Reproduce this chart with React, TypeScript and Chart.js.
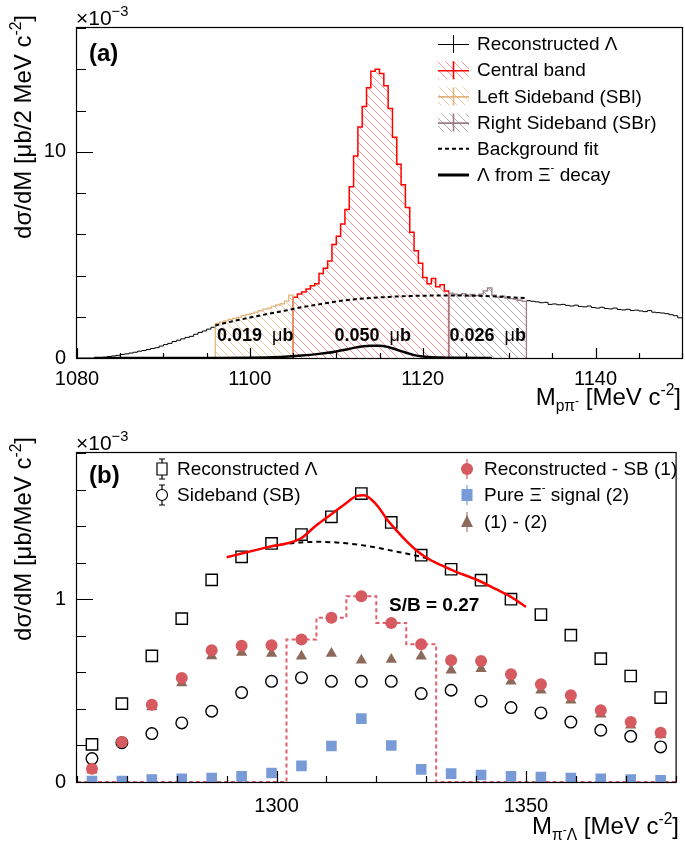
import React, { useEffect, useRef } from 'react';
import { Chart, registerables } from 'chart.js';

Chart.register(...registerables);

const FONT = '"Liberation Sans", Arimo, Arial, Helvetica, sans-serif';
Chart.defaults.font.family = FONT;

/* ================= Panel (a): M(p pi-) spectrum ================= */
const binWidthA = 0.5;
const recoLeftStart = 1080;
const recoLeftValues = [0, 0, 0, 0, 0.01, 0.02, 0.04, 0.07, 0.1, 0.13, 0.17, 0.2, 0.24, 0.28, 0.33, 0.36, 0.41, 0.46, 0.5, 0.58, 0.65, 0.71, 0.8, 0.86, 0.93, 1.0, 1.05, 1.15, 1.24, 1.31, 1.4, 1.49];
const sblStart = 1096;
const sblValues = [1.68, 1.74, 1.8, 1.87, 1.92, 1.97, 2.05, 2.1, 2.16, 2.22, 2.29, 2.37, 2.42, 2.5, 2.57, 2.63, 2.76, 3.05];
const centralStart = 1105;
const centralValues = [2.95, 3.1, 3.2, 3.35, 3.5, 3.6, 4.1, 4.35, 4.7, 5.5, 5.9, 6.5, 7.2, 8.3, 9.8, 11.2, 12.2, 13.1, 13.9, 14.0, 13.8, 13.2, 12.1, 10.7, 9.4, 8.4, 7.3, 6.1, 5.2, 4.6, 3.9, 3.6, 3.85, 3.45, 3.55, 3.25];
const sbrStart = 1123;
const sbrValues = [3.15, 3.1, 3.05, 3.12, 3.0, 3.08, 3.02, 3.1, 3.25, 3.4, 3.05, 2.95, 3.0, 2.9, 2.88, 2.85, 2.8, 2.75];
const recoRightStart = 1132;
const recoRightValues = [2.78, 2.75, 2.72, 2.68, 2.7, 2.6, 2.62, 2.58, 2.6, 2.55, 2.52, 2.56, 2.5, 2.48, 2.52, 2.45, 2.42, 2.46, 2.4, 2.38, 2.42, 2.35, 2.33, 2.36, 2.3, 2.32, 2.28, 2.25, 2.3, 2.22, 2.2, 2.18, 2.15, 2.1, 2.05, 1.95];
const bgFitMassA = [1096, 1098, 1100, 1102, 1104, 1106, 1108, 1110, 1112, 1114, 1116, 1118, 1120, 1122, 1124, 1126, 1128, 1130, 1132];
const bgFitValuesA = [1.58, 1.78, 1.96, 2.13, 2.29, 2.46, 2.6, 2.74, 2.84, 2.91, 2.96, 3.0, 3.02, 3.03, 3.03, 3.02, 2.99, 2.95, 2.9];
const xiLambdaMass = [1082, 1090, 1096, 1100, 1102, 1104, 1106, 1108, 1109, 1110, 1111, 1112, 1113, 1114, 1115, 1116, 1117, 1118, 1119, 1120, 1122, 1124, 1128];
const xiLambdaValues = [0, 0, 0.005, 0.015, 0.03, 0.06, 0.12, 0.2, 0.25, 0.32, 0.4, 0.49, 0.56, 0.6, 0.6, 0.53, 0.4, 0.27, 0.14, 0.07, 0.025, 0.01, 0];
const bandYieldLabels = ['0.019', '0.050', '0.026'];
const bandYieldMass = [1096.2, 1109.8, 1123.1];
const xTicksA = [1080, 1100, 1120, 1140];
const yTicksA = [0, 10];

/* ================= Panel (b): M(pi- Lambda) spectrum ================= */
const massB = [1263, 1269, 1275, 1281, 1287, 1293, 1299, 1305, 1311, 1317, 1323, 1329, 1335, 1341, 1347, 1353, 1359, 1365, 1371, 1377];
const recoB = [0.206, 0.429, 0.69, 0.894, 1.106, 1.232, 1.305, 1.354, 1.451, 1.578, 1.42, 1.241, 1.164, 1.104, 1.0, 0.916, 0.803, 0.675, 0.58, 0.462];
const sidebandB = [0.128, 0.215, 0.265, 0.323, 0.387, 0.489, 0.551, 0.571, 0.551, 0.551, 0.551, 0.484, 0.502, 0.442, 0.407, 0.378, 0.328, 0.283, 0.25, 0.192];
const subtractedB = [0.073, 0.219, 0.423, 0.569, 0.721, 0.745, 0.748, 0.779, 0.898, 1.016, 0.87, 0.754, 0.666, 0.662, 0.589, 0.535, 0.474, 0.392, 0.328, 0.27];
const pureXiB = [0.005, 0.005, 0.013, 0.018, 0.022, 0.031, 0.049, 0.088, 0.197, 0.347, 0.2, 0.069, 0.046, 0.038, 0.031, 0.027, 0.022, 0.018, 0.013, 0.009];
const diffB = [0.064, 0.21, 0.41, 0.542, 0.69, 0.708, 0.703, 0.688, 0.703, 0.666, 0.67, 0.688, 0.611, 0.62, 0.551, 0.502, 0.447, 0.37, 0.31, 0.259];
const signalEdgesB = [1302, 1308, 1314, 1320, 1326, 1332];
const signalValuesB = [0.779, 0.898, 1.016, 0.87, 0.754];
const fitTotalMass = [1290, 1293, 1296, 1299, 1302, 1305, 1308, 1311, 1314, 1316, 1317.5, 1319, 1320.5, 1322, 1324, 1326, 1328, 1330, 1333, 1336, 1340, 1344, 1347, 1350];
const fitTotalValues = [1.23, 1.25, 1.27, 1.29, 1.305, 1.335, 1.405, 1.465, 1.527, 1.564, 1.569, 1.546, 1.502, 1.442, 1.378, 1.319, 1.268, 1.228, 1.186, 1.15, 1.108, 1.055, 1.013, 0.958];
const fitBgMass = [1299, 1302, 1305, 1308, 1311, 1314, 1317, 1320, 1323, 1326, 1329, 1331];
const fitBgValues = [1.29, 1.303, 1.311, 1.314, 1.312, 1.306, 1.296, 1.283, 1.266, 1.25, 1.232, 1.215];
const sbRatioLabel = 'S/B = 0.27';
const xTicksB = [1300, 1350];
const yTicksB = [0, 1];

/* ================= styles ================= */
const RED = '#ff0000';
const TAN = '#e2b57e';
const MAUVE = '#9c7d89';
const PT_RED = '#d65a5f';
const PT_BLUE = '#789bd7';
const PT_BROWN = '#8c695a';
const SIG_RED = '#e0606c';

type Seg = { t: string; s?: number; dy?: number; b?: boolean };

function drawRich(ctx: CanvasRenderingContext2D, segs: Seg[], x: number, y: number, size: number, align: 'left' | 'right' | 'center', bold = false) {
  const fnt = (s: Seg) => `${(s.b ?? bold) ? 'bold ' : ''}${(size * (s.s ?? 1)).toFixed(1)}px ${FONT}`;
  let total = 0;
  for (const s of segs) { ctx.font = fnt(s); total += ctx.measureText(s.t).width; }
  let cx = align === 'right' ? x - total : align === 'center' ? x - total / 2 : x;
  ctx.textAlign = 'left';
  for (const s of segs) {
    ctx.font = fnt(s);
    ctx.fillText(s.t, cx, y + (s.dy ?? 0) * size);
    cx += ctx.measureText(s.t).width;
  }
  return total;
}

function hatch(color: string) {
  const c = document.createElement('canvas');
  c.width = 8; c.height = 8;
  const g = c.getContext('2d')!;
  g.strokeStyle = color; g.lineWidth = 1;
  g.beginPath();
  g.moveTo(0, 0); g.lineTo(8, 8);
  g.moveTo(-1, 7); g.lineTo(1, 9);
  g.moveTo(7, -1); g.lineTo(9, 1);
  g.stroke();
  return g.createPattern(c, 'repeat')!;
}

function hist(start: number, w: number, vals: number[], closed: boolean) {
  const pts: { x: number; y: number }[] = [];
  if (closed) pts.push({ x: start, y: 0 });
  vals.forEach((v, i) => pts.push({ x: start + i * w, y: v }));
  pts.push({ x: start + vals.length * w, y: closed ? 0 : vals[vals.length - 1] });
  return pts;
}
const zip = (xs: number[], ys: number[]) => xs.map((x, i) => ({ x, y: ys[i] }));

const tickFont = { family: FONT, size: 20, lineHeight: 1.2 };

function scales(xMin: number, xMax: number, xTicks: number[], yMax: number, yTicks: number[], xHeight: number, xPad: number) {
  return {
    x: {
      type: 'linear', min: xMin, max: xMax, bounds: 'data',
      grid: { display: false }, border: { display: false },
      afterBuildTicks: (s: any) => { s.ticks = xTicks.map((v) => ({ value: v })); },
      afterFit: (s: any) => { s.height = xHeight; },
      ticks: { font: tickFont, color: '#000', padding: xPad, maxRotation: 0, minRotation: 0, autoSkip: false, callback: (v: any) => String(v) },
    },
    y: {
      type: 'linear', min: 0, max: yMax, bounds: 'data',
      grid: { display: false }, border: { display: false },
      afterBuildTicks: (s: any) => { s.ticks = yTicks.map((v) => ({ value: v })); },
      afterFit: (s: any) => { s.width = 77; },
      ticks: { font: tickFont, color: '#000', padding: 3, autoSkip: false, callback: (v: any) => String(v) },
    },
  };
}

function frameAndTicks(chart: any, o: { xMin: number; xMax: number; xStep: number; xMajor: number[]; xMaj: number; xMin_: number; yMax: number; yStep: number; yMajor: number[]; yMaj: number; yMin_: number }) {
  const { ctx, chartArea: a } = chart;
  const xs = chart.scales.x, ys = chart.scales.y;
  ctx.save();
  ctx.strokeStyle = '#000';
  ctx.lineWidth = 1.2;
  ctx.strokeRect(a.left - 0.5, a.top - 0.5, a.right - a.left + 1, a.bottom - a.top + 1);
  ctx.beginPath();
  const nx = Math.round((o.xMax - o.xMin) / o.xStep);
  for (let i = 0; i <= nx; i++) {
    const v = o.xMin + i * o.xStep;
    const px = Math.round(xs.getPixelForValue(v)) + 0.5;
    const len = o.xMajor.some((m) => Math.abs(m - v) < 1e-6) ? o.xMaj : o.xMin_;
    ctx.moveTo(px, a.bottom); ctx.lineTo(px, a.bottom - len);
  }
  const ny = Math.round(o.yMax / o.yStep);
  for (let i = 0; i <= ny; i++) {
    const v = i * o.yStep;
    const py = Math.round(ys.getPixelForValue(v)) + 0.5;
    const len = o.yMajor.some((m) => Math.abs(m - v) < 1e-6) ? o.yMaj : o.yMin_;
    ctx.moveTo(a.left, py); ctx.lineTo(a.left + len, py);
  }
  ctx.stroke();
  ctx.restore();
}

function yTitle(ctx: CanvasRenderingContext2D, segs: Seg[], xBase: number, yEnd: number, size: number) {
  ctx.save();
  ctx.translate(xBase, yEnd);
  ctx.rotate(-Math.PI / 2);
  ctx.fillStyle = '#000';
  ctx.textBaseline = 'alphabetic';
  drawRich(ctx, segs, 0, 0, size, 'right');
  ctx.restore();
}

function configA() {
  const redHatch = hatch('rgba(255,60,60,0.55)');
  const tanHatch = hatch('rgba(226,181,126,0.7)');
  const mauveHatch = hatch('rgba(140,110,125,0.6)');

  const legendA: { segs: Seg[]; kind: string; color: string; pat?: CanvasPattern }[] = [
    { segs: [{ t: 'Reconstructed Λ' }], kind: 'cross', color: '#000' },
    { segs: [{ t: 'Central band' }], kind: 'box', color: RED, pat: redHatch },
    { segs: [{ t: 'Left Sideband (SBl)' }], kind: 'box', color: TAN, pat: tanHatch },
    { segs: [{ t: 'Right Sideband (SBr)' }], kind: 'box', color: MAUVE, pat: mauveHatch },
    { segs: [{ t: 'Background fit' }], kind: 'dash', color: '#000' },
    { segs: [{ t: 'Λ from Ξ' }, { t: '-', s: 0.6, dy: -0.45 }, { t: ' decay' }], kind: 'line', color: '#000' },
  ];

  const plugin = {
    id: 'panelA',
    afterDraw(chart: any) {
      const { ctx } = chart;
      const xs = chart.scales.x;
      frameAndTicks(chart, { xMin: 1080, xMax: 1150, xStep: 5, xMajor: xTicksA, xMaj: 10, xMin_: 5, yMax: 16, yStep: 2, yMajor: yTicksA, yMaj: 16, yMin_: 9 });
      ctx.save();
      ctx.fillStyle = '#000';
      ctx.textBaseline = 'alphabetic';
      drawRich(ctx, [{ t: '×10' }, { t: '−3', s: 0.7, dy: -0.45 }], 76, 25, 21, 'left');
      ctx.font = `bold 24px ${FONT}`;
      ctx.textAlign = 'left';
      ctx.fillText('(a)', 89, 61);
      ctx.textBaseline = 'middle';
      bandYieldLabels.forEach((lab, i) => {
        drawRich(ctx, [{ t: lab + '  ', b: true }, { t: 'μ', b: false }, { t: 'b', b: true }], xs.getPixelForValue(bandYieldMass[i]), 336, 18, 'left', true);
      });
      ctx.textBaseline = 'alphabetic';
      drawRich(ctx, [{ t: 'M' }, { t: 'pπ', s: 0.65, dy: 0.25 }, { t: '-', s: 0.5, dy: -0.02 }, { t: ' [MeV c' }, { t: '-2', s: 0.65, dy: -0.42 }, { t: ']' }], 681, 405, 24, 'right');
      yTitle(ctx, [{ t: 'dσ/dM [μb/2 MeV c' }, { t: '-2', s: 0.65, dy: -0.42 }, { t: ']' }], 31, 15, 24);
      const sx0 = 438, sx1 = 469, scx = 453.5, tx = 477;
      legendA.forEach((e, i) => {
        const y = 44 + i * 26.2;
        ctx.save();
        if (e.kind === 'box') {
          ctx.fillStyle = e.pat!;
          ctx.fillRect(sx0, y - 9, sx1 - sx0, 18);
        }
        ctx.strokeStyle = e.color;
        if (e.kind === 'cross' || e.kind === 'box') {
          ctx.lineWidth = e.kind === 'cross' ? 1 : 1.6;
          ctx.beginPath();
          ctx.moveTo(sx0, y + 0.5); ctx.lineTo(sx1, y + 0.5);
          ctx.moveTo(scx, y - 9); ctx.lineTo(scx, y + 9);
          ctx.stroke();
        } else if (e.kind === 'dash') {
          ctx.lineWidth = 2; ctx.setLineDash([4, 3]);
          ctx.beginPath(); ctx.moveTo(sx0, y); ctx.lineTo(sx1, y); ctx.stroke();
        } else {
          ctx.lineWidth = 3;
          ctx.beginPath(); ctx.moveTo(sx0, y); ctx.lineTo(sx1, y); ctx.stroke();
        }
        ctx.restore();
        ctx.fillStyle = '#000';
        ctx.textBaseline = 'middle';
        drawRich(ctx, e.segs, tx, y + 1, 19, 'left');
      });
      ctx.restore();
    },
  };

  return {
    type: 'line',
    data: {
      datasets: [
        { label: 'Λ from Ξ⁻ decay', data: zip(xiLambdaMass, xiLambdaValues), borderColor: '#000', borderWidth: 2.5, pointRadius: 0, cubicInterpolationMode: 'monotone', fill: false, order: 0 },
        { label: 'Background fit', data: zip(bgFitMassA, bgFitValuesA), borderColor: '#000', borderWidth: 2, borderDash: [4, 3], pointRadius: 0, cubicInterpolationMode: 'monotone', fill: false, order: 1 },
        { label: 'Right Sideband (SBr)', data: hist(sbrStart, binWidthA, sbrValues, true), stepped: true, borderColor: MAUVE, borderWidth: 1.3, backgroundColor: mauveHatch, fill: 'origin', pointRadius: 0, order: 2 },
        { label: 'Left Sideband (SBl)', data: hist(sblStart, binWidthA, sblValues, true), stepped: true, borderColor: TAN, borderWidth: 1.3, backgroundColor: tanHatch, fill: 'origin', pointRadius: 0, order: 3 },
        { label: 'Central band', data: hist(centralStart, binWidthA, centralValues, true), stepped: true, borderColor: RED, borderWidth: 1.5, backgroundColor: redHatch, fill: 'origin', pointRadius: 0, order: 4 },
        { label: 'Reconstructed Λ', data: hist(recoLeftStart, binWidthA, recoLeftValues, false), stepped: true, borderColor: '#000', borderWidth: 1, pointRadius: 0, fill: false, order: 5 },
        { label: 'Reconstructed Λ (right)', data: hist(recoRightStart, binWidthA, recoRightValues, false), stepped: true, borderColor: '#000', borderWidth: 1, pointRadius: 0, fill: false, order: 6 },
      ],
    },
    options: {
      animation: false, responsive: false, devicePixelRatio: 1,
      layout: { padding: { top: 28, right: 3, left: 0, bottom: 0 } },
      plugins: { legend: { display: false }, tooltip: { enabled: false } },
      scales: scales(1080, 1150, xTicksA, 16, yTicksA, 62, 1),
    },
    plugins: [plugin],
  } as any;
}

function configB() {
  const plugin = {
    id: 'panelB',
    afterDraw(chart: any) {
      const { ctx } = chart;
      frameAndTicks(chart, { xMin: 1260, xMax: 1380, xStep: 10, xMajor: xTicksB, xMaj: 11, xMin_: 6, yMax: 1.8, yStep: 0.2, yMajor: yTicksB, yMaj: 16, yMin_: 9 });
      ctx.save();
      ctx.fillStyle = '#000';
      ctx.textBaseline = 'alphabetic';
      drawRich(ctx, [{ t: '×10' }, { t: '−3', s: 0.7, dy: -0.45 }], 76, 30, 21, 'left');
      ctx.font = `bold 24px ${FONT}`;
      ctx.textAlign = 'left';
      ctx.fillText('(b)', 89, 63);
      ctx.font = `bold 19px ${FONT}`;
      ctx.fillText(sbRatioLabel, 389, 191);
      drawRich(ctx, [{ t: 'M' }, { t: 'π', s: 0.65, dy: 0.25 }, { t: '-', s: 0.5, dy: -0.02 }, { t: 'Λ', s: 0.65, dy: 0.25 }, { t: ' [MeV c' }, { t: '-2', s: 0.65, dy: -0.42 }, { t: ']' }], 679, 414, 24, 'right');
      yTitle(ctx, [{ t: 'dσ/dM [μb/MeV c' }, { t: '-2', s: 0.65, dy: -0.42 }, { t: ']' }], 31, 17, 24);

      const legendB: { segs: Seg[]; kind: string; x: number; y: number }[] = [
        { segs: [{ t: 'Reconstructed Λ' }], kind: 'sq', x: 162, y: 49 },
        { segs: [{ t: 'Sideband (SB)' }], kind: 'circ', x: 162, y: 75 },
        { segs: [{ t: 'Reconstructed - SB (1)' }], kind: 'red', x: 467, y: 49 },
        { segs: [{ t: 'Pure Ξ' }, { t: '-', s: 0.6, dy: -0.45 }, { t: ' signal (2)' }], kind: 'blue', x: 467, y: 75 },
        { segs: [{ t: '(1) - (2)' }], kind: 'tri', x: 467, y: 102 },
      ];
      legendB.forEach((e) => {
        const { x, y } = e;
        ctx.save();
        if (e.kind === 'sq' || e.kind === 'circ') {
          ctx.strokeStyle = '#000'; ctx.lineWidth = 1.2;
          ctx.beginPath();
          ctx.moveTo(x, y - 10); ctx.lineTo(x, y + 10);
          ctx.moveTo(x - 3, y - 10); ctx.lineTo(x + 3, y - 10);
          ctx.moveTo(x - 3, y + 10); ctx.lineTo(x + 3, y + 10);
          ctx.stroke();
          ctx.fillStyle = '#fff';
          ctx.beginPath();
          if (e.kind === 'sq') ctx.rect(x - 5, y - 6, 10, 12); else ctx.arc(x, y, 5.5, 0, Math.PI * 2);
          ctx.fill(); ctx.stroke();
        } else if (e.kind === 'red') {
          ctx.strokeStyle = PT_RED; ctx.lineWidth = 1.2;
          ctx.beginPath(); ctx.moveTo(x, y - 10); ctx.lineTo(x, y + 10); ctx.stroke();
          ctx.fillStyle = PT_RED; ctx.beginPath(); ctx.arc(x, y, 6, 0, Math.PI * 2); ctx.fill();
        } else if (e.kind === 'blue') {
          ctx.strokeStyle = PT_BLUE; ctx.lineWidth = 1.2;
          ctx.beginPath(); ctx.moveTo(x, y - 10); ctx.lineTo(x, y + 10); ctx.stroke();
          ctx.fillStyle = PT_BLUE; ctx.fillRect(x - 5.5, y - 6, 11, 12);
        } else {
          ctx.fillStyle = PT_BROWN;
          ctx.beginPath(); ctx.moveTo(x, y - 7); ctx.lineTo(x + 6, y + 5); ctx.lineTo(x - 6, y + 5); ctx.closePath(); ctx.fill();
          ctx.strokeStyle = PT_BROWN; ctx.beginPath(); ctx.moveTo(x, y - 10); ctx.lineTo(x, y + 10); ctx.stroke();
        }
        ctx.restore();
        ctx.fillStyle = '#000';
        ctx.textBaseline = 'middle';
        drawRich(ctx, e.segs, x + (e.x < 300 ? 15 : 17), y + 1, 19, 'left');
      });
      ctx.restore();
    },
  };

  const sigPts = [{ x: 1260, y: 0 }, ...signalValuesB.map((v, i) => ({ x: signalEdgesB[i], y: v })), { x: signalEdgesB[signalEdgesB.length - 1], y: 0 }, { x: 1380, y: 0 }];

  return {
    type: 'line',
    data: {
      datasets: [
        { label: 'Pure Ξ⁻ signal (2)', data: zip(massB, pureXiB), showLine: false, pointStyle: 'rect', pointRadius: 7.5, pointBackgroundColor: PT_BLUE, pointBorderColor: PT_BLUE, pointBorderWidth: 0, order: 1 },
        { label: 'Reconstructed - SB (1)', data: zip(massB, subtractedB), showLine: false, pointStyle: 'circle', pointRadius: 6, pointBackgroundColor: PT_RED, pointBorderColor: PT_RED, pointBorderWidth: 0, order: 2 },
        { label: '(1) - (2)', data: zip(massB, diffB), showLine: false, pointStyle: 'triangle', pointRadius: 6.5, pointBackgroundColor: PT_BROWN, pointBorderColor: PT_BROWN, pointBorderWidth: 0, order: 3 },
        { label: 'Fit', data: zip(fitTotalMass, fitTotalValues), borderColor: RED, borderWidth: 2.5, pointRadius: 0, cubicInterpolationMode: 'monotone', fill: false, order: 4 },
        { label: 'Fit background', data: zip(fitBgMass, fitBgValues), borderColor: '#000', borderWidth: 2, borderDash: [5, 4], pointRadius: 0, cubicInterpolationMode: 'monotone', fill: false, order: 5 },
        { label: 'Sideband (SB)', data: zip(massB, sidebandB), showLine: false, pointStyle: 'circle', pointRadius: 5.8, pointBackgroundColor: 'rgba(255,255,255,0)', pointBorderColor: '#000', pointBorderWidth: 1.4, order: 6 },
        { label: 'Reconstructed Λ', data: zip(massB, recoB), showLine: false, pointStyle: 'rect', pointRadius: 8, pointBackgroundColor: 'rgba(255,255,255,0)', pointBorderColor: '#000', pointBorderWidth: 1.4, order: 7 },
        { label: 'Signal region', data: sigPts, stepped: true, borderColor: SIG_RED, borderWidth: 2, borderDash: [4, 3], pointRadius: 0, fill: false, order: 8 },
      ],
    },
    options: {
      animation: false, responsive: false, devicePixelRatio: 1,
      layout: { padding: { top: 33, right: 3, left: 0, bottom: 0 } },
      plugins: { legend: { display: false }, tooltip: { enabled: false } },
      scales: scales(1260, 1380, xTicksB, 1.8, yTicksB, 63, 4),
    },
    plugins: [plugin],
  } as any;
}

export default function App() {
  const refA = useRef<HTMLCanvasElement>(null);
  const refB = useRef<HTMLCanvasElement>(null);
  useEffect(() => {
    const ca = new Chart(refA.current!, configA());
    const cb = new Chart(refB.current!, configB());
    return () => { ca.destroy(); cb.destroy(); };
  }, []);
  return (
    <div style={{ position: 'absolute', left: 0, top: 0, width: 685, height: 845, background: '#fff' }}>
      <canvas ref={refA} width={685} height={420} style={{ position: 'absolute', left: 0, top: 0 }} />
      <canvas ref={refB} width={685} height={425} style={{ position: 'absolute', left: 0, top: 420 }} />
    </div>
  );
}
